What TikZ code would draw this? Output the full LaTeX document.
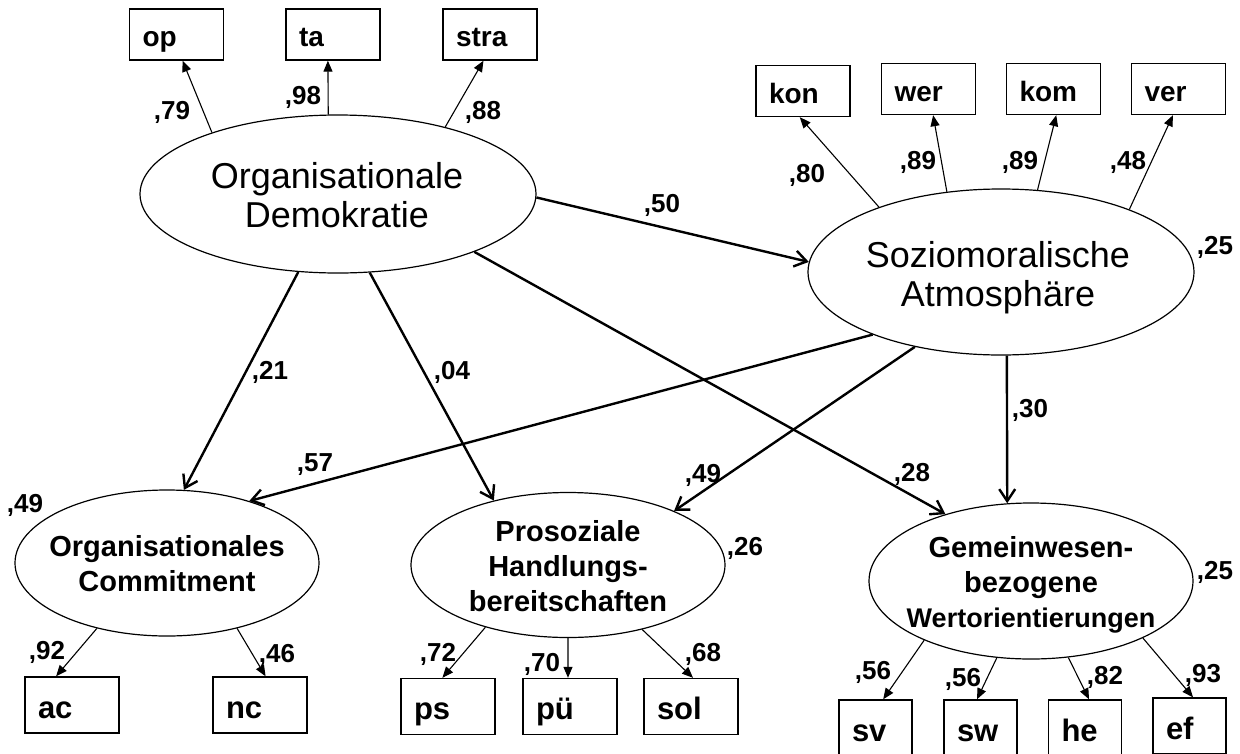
\documentclass[tikz,border=0pt]{standalone}
\usepackage{fontspec}
\setmainfont{Liberation Sans}
\usetikzlibrary{arrows.meta,shapes.geometric}

\tikzset{
  latent/.style={shape=ellipse, draw=black, line width=1.2pt, inner sep=0pt},
  latreg/.style={align=center, inner sep=0pt, font=\fontsize{36}{39}\selectfont},
  latbold/.style={align=center, inner sep=0pt, font=\bfseries\fontsize{29}{35}\selectfont},
  ind/.style={shape=rectangle, draw=black, line width=1.4pt, inner xsep=13pt, inner ysep=0pt,
    text width=68pt, minimum height=51pt, align=left, text height=24pt, text depth=0pt,
    font=\bfseries\fontsize{28}{28}\selectfont},
  indlow/.style={ind, minimum height=56pt, text height=26pt, font=\bfseries\fontsize{31}{31}\selectfont},
  load/.style={-{Triangle[length=11pt,width=9pt]}, line width=1.1pt},
  effect/.style={-{Straight Barb[length=12pt,width=16pt]}, line width=2.4pt},
  coef/.style={inner sep=0pt, text depth=0pt, font=\bfseries\fontsize{26}{26}\selectfont}
}

\begin{document}
\begin{tikzpicture}[x=1pt, y=-1pt]
	\useasboundingbox (0,0) rectangle (1240,753);
	\clip (0,0) rectangle (1240,753);

	% latent variables
	\node[latent, minimum width=396pt, minimum height=158pt] (od) at (338,194) {};
	\node[latreg] (odtext) at (337,195) {Organisationale\\Demokratie};
	\node[latent, minimum width=386pt, minimum height=166pt] (sa) at (1001,272) {};
	\node[latreg] (satext) at (998,278) {Soziomoralische\\Atmosphäre};
	\node[latent, minimum width=304pt, minimum height=146pt] (oc) at (167,563) {};
	\node[latbold] (octext) at (167,564) {Organisationales\\Commitment};
	\node[latent, minimum width=314pt, minimum height=145pt] (ph) at (568,565) {};
	\node[latbold] (phtext) at (568,566) {Prosoziale\\Handlungs-\\bereitschaften};
	\node[latent, minimum width=324pt, minimum height=156pt] (gw) at (1031,581) {};
	\node[latbold] (gwtext) at (1031,585) {Gemeinwesen-\\bezogene\\{\fontsize{27}{33}\selectfont Wertorientierungen}};

	% indicators
	\node[ind] (op)   at (176.5,34.5) {op};
	\node[ind] (ta)   at (333,34.5)   {ta};
	\node[ind] (stra) at (490,34.5)   {stra};
	\node[ind] (kon)  at (803,91)     {kon};
	\node[ind] (wer)  at (928.5,89)   {wer};
	\node[ind] (kom)  at (1053.5,89)  {kom};
	\node[ind] (ver)  at (1178.5,89)  {ver};
	\node[indlow] (ac)  at (72,705)    {ac};
	\node[indlow] (nc)  at (260,705)   {nc};
	\node[indlow] (ps)  at (448,706.5) {ps};
	\node[indlow] (pue) at (570,706.5) {pü};
	\node[indlow] (sol) at (691,706.5) {sol};
	\node[indlow, text width=47pt] (sv) at (875.5,728)  {sv};
	\node[indlow, text width=47pt] (sw) at (980.5,728)  {sw};
	\node[indlow, text width=47pt] (he) at (1085,728)   {he};
	\node[indlow, text width=47pt] (ef) at (1189.5,726) {ef};

	% loadings
	\path[load] (od.154) edge (op.-77);
	\path[load] (od.97) edge (ta.-101);
	\path[load] (od.32.5) edge (stra.-104);
	\path[load] (sa.152) edge (kon.-97);
	\path[load] (sa.124.6) edge (wer.-80);
	\path[load] (sa.66) edge (kom.-84.5);
	\path[load] (sa.26) edge (ver.-102);
	\path[load] (oc.-137) edge (ac.119);
	\path[load] (oc.-43.7) edge (nc.79.5);
	\path[load] (ph.-143) edge (ps.101);
	\path[load] (ph.-90) edge (pue.94);
	\path[load] (ph.-41) edge (sol.86);
	\path[load] (gw.-151.6) edge (sv.75.5);
	\path[load] (gw.-114) edge (sw.97);
	\path[load] (gw.-64) edge (he.82);
	\path[load] (gw.-27) edge (ef.83);

	% structural paths
	\path[effect] (od.-1.7) edge (sa.177);
	\path[effect] (od.-117.4) edge (oc.77.6);
	\path[effect] (od.-68) edge (ph.139.1);
	\path[effect] (od.-23) edge (gw.142.2);
	\path[effect] (sa.-154.3) edge (oc.37);
	\path[effect] (sa.-139.9) edge (ph.27.2);
	\path[effect] (sa.-86.6) edge (gw.107.8);

	% coefficients
	\node[coef] (cop)   at (172,110)  {,79};
	\node[coef] (cta)   at (303,95)   {,98};
	\node[coef] (cstra) at (483,110)  {,88};
	\node[coef] (ckon)  at (807,173)  {,80};
	\node[coef] (cwer)  at (918,160)  {,89};
	\node[coef] (ckom)  at (1020,160) {,89};
	\node[coef] (cver)  at (1128,160) {,48};
	\node[coef] (rsa)   at (1215,245) {,25};
	\node[coef] (codsa) at (662,203)  {,50};
	\node[coef] (codoc) at (270,370)  {,21};
	\node[coef] (codph) at (452,370)  {,04};
	\node[coef] (csaoc) at (315,463)  {,57};
	\node[coef] (csaph) at (703,473)  {,49};
	\node[coef] (codgw) at (912,472)  {,28};
	\node[coef] (csagw) at (1030,408) {,30};
	\node[coef] (roc)   at (25,503)   {,49};
	\node[coef] (cac)   at (47,650)   {,92};
	\node[coef] (cnc)   at (277,653)  {,46};
	\node[coef] (cps)   at (438,652)  {,72};
	\node[coef] (cpue)  at (542,662)  {,70};
	\node[coef] (csol)  at (703,652)  {,68};
	\node[coef] (rph)   at (745,546)  {,26};
	\node[coef] (csv)   at (873,670)  {,56};
	\node[coef] (csw)   at (963,677)  {,56};
	\node[coef] (che)   at (1105,675) {,82};
	\node[coef] (cef)   at (1203,673) {,93};
	\node[coef] (rgw)   at (1215,570) {,25};

\end{tikzpicture}
\end{document}
